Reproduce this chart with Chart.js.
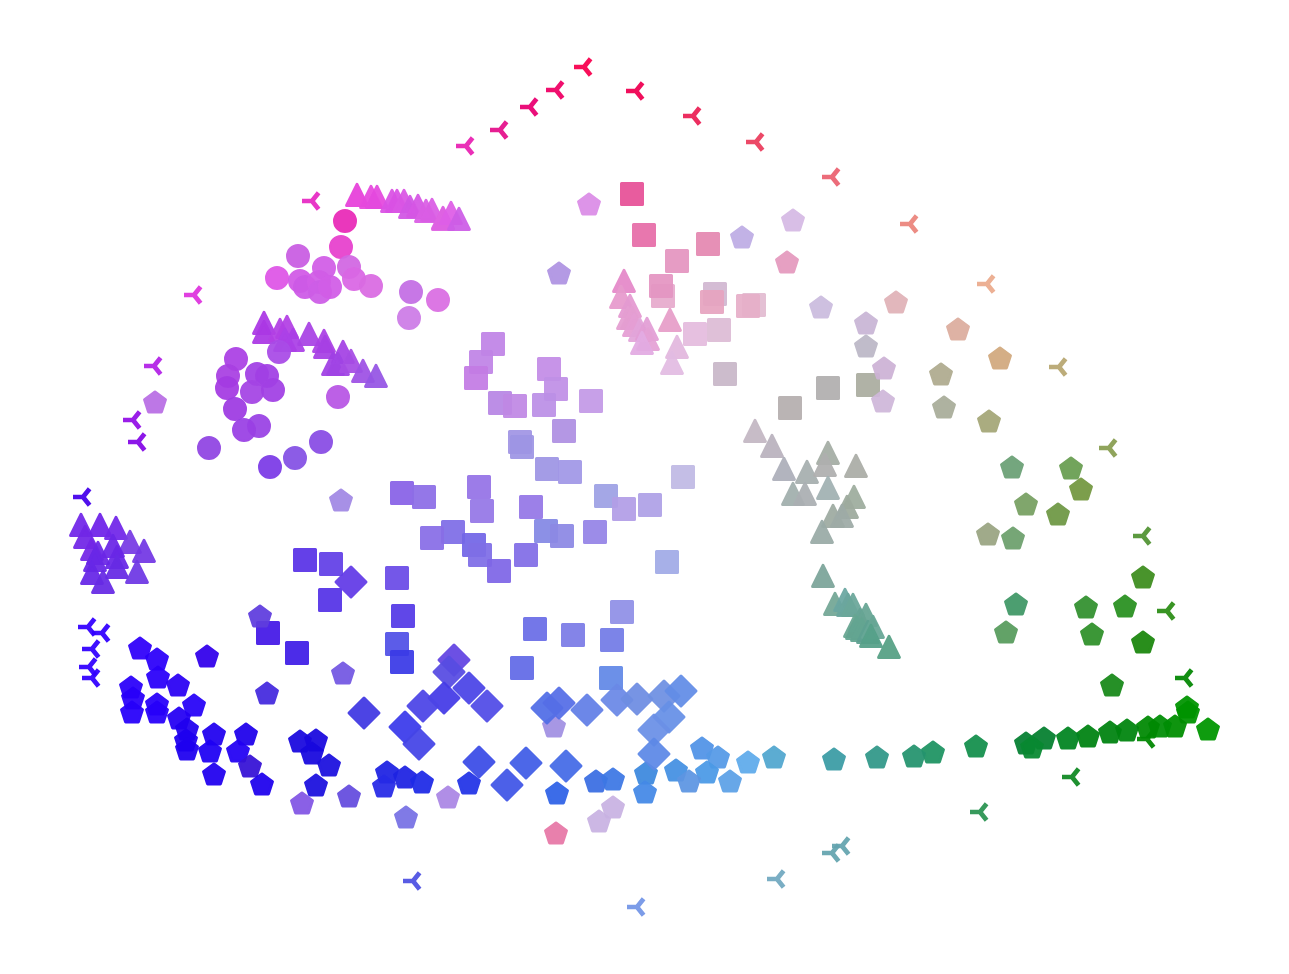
<!DOCTYPE html>
<html>
<head>
<meta charset="utf-8">
<title>Scatter</title>
<script src="https://cdn.jsdelivr.net/npm/chart.js@4"></script>
<style>
  html, body { margin: 0; background: #fff; }
  #chart { display: block; }
</style>
</head>
<body>
<canvas id="chart" width="1289" height="974"></canvas>
<script>
// values, one set of arrays per marker shape
const tristarX = [584,636,556,530,500,466,693,756,832,910,987,1059,1109,1143,1167,1185,312,194,154,133,138,83,88,102,92,89,92,413,637,777,980,832,842,1072,1147];
const tristarY = [67,91,90,107,130,146,116,142,177,224,284,367,448,536,611,678,201,295,366,420,442,497,627,633,649,667,678,881,907,879,812,853,846,777,739];
const tristarColors = ['#f8005a','#f00c5c','#f00a6e','#ea0f7a','#e61f92','#ea30b8','#ec2e60','#ec4a68','#ec6c7a','#ec8c84','#ecb094','#bcac7a','#90a45c','#5c9a40','#3a9424','#128e12','#e838c8','#e040e0','#b830e8','#9a1ee8','#8c18e8','#5008ec','#4008ff','#3e08ff','#3e08ff','#3e08ff','#3e08ff','#5a5ce4','#7c9ce8','#7aaec4','#389a5c','#6eaab4','#6eaab4','#1e9030','#0a8e10'];

const triangleX = [357,371,377,392,397,404,410,418,426,432,443,443,451,459,
  264,264,280,287,293,285,309,324,325,343,333,338,351,363,376,
  81,100,116,85,130,144,113,92,98,117,95,117,137,92,103,
  624,621,630,628,632,634,640,647,648,642,670,677,672,
  755,772,784,807,828,825,856,793,805,828,854,847,833,842,822,
  823,835,845,848,853,860,866,855,857,862,868,873,871,889];
const triangleY = [195,197,197,201,201,201,207,206,211,210,218,219,213,219,
  323,332,330,327,340,340,334,341,347,352,364,364,361,371,376,
  525,525,528,537,542,551,546,549,553,557,560,567,572,573,582,
  281,297,306,318,318,325,330,329,339,343,320,347,363,
  431,446,469,472,453,465,466,494,494,488,497,507,516,516,532,
  576,604,600,605,605,620,615,626,628,630,632,627,636,647];
const triangleColors = ['#e84cdc','#e854e0','#e654e0','#dc5ce6','#dc5ce6','#dc60e6','#d460e6','#d860e6','#dc68e6','#dc68e6','#e06ce4','#e06ce4','#e068e8','#d068e8',
  '#b044e6','#b044e6','#b84ce6','#b84ce6','#b04ce8','#b04ce8','#ae4ee6','#b04ce6','#ac4ce6','#aa4ee6','#a64ce6','#a650e6','#ac58e6','#a45ce6','#9c60e6',
  '#7a34ea','#7830ea','#7a34ea','#7a34e8','#8048e6','#7c44e6','#7434e8','#7c34e8','#7434e8','#7234e8','#7234e8','#7038e6','#7844e6','#7034e8','#7038e6',
  '#e690cc','#e8a0d0','#e6a0d4','#e6a4d4','#e6a4d4','#e6a4d6','#e4aadc','#e4a4d8','#e6a8d8','#e4b0e4','#e8a4cc','#e4bce0','#e4c0e4',
  '#c8bcc8','#beb8c2','#b2b4be','#acb4b4','#aab2aa','#b4b4b4','#b0b2ac','#a8b4b2','#b0b4b8','#a8b6b8','#a4b2a4','#a4b0a4','#a4b0a8','#a4b0ac','#a0b0ac',
  '#84aaa0','#7cac9c','#74aca8','#74aca4','#74aca0','#70aa9c','#70aa9a','#70aa98','#6caa98','#6caa98','#68a698','#70ac9c','#60a690','#60a68c'];

const circleX = [345,341,298,277,300,324,349,305,319,320,330,354,371,411,438,409,
  236,279,228,227,257,267,252,273,235,338,259,244,209,321,295,270];
const circleY = [221,247,256,278,281,268,267,287,282,292,287,279,286,292,300,318,
  359,352,376,388,374,376,392,390,409,397,426,430,448,442,458,467];
const circleColors = ['#ea38bc','#e84cd0','#cc68e4','#e060e8','#d464e8','#d468e8','#d470e4','#d064e8','#d468e8','#d068e8','#d468e8','#dc70e6','#dc74e4','#c878e6','#dc78e4','#d084e8',
  '#b04ce6','#ae56e8','#ae4ce4','#aa48e4','#a84ce6','#a84ce6','#aa50e6','#a84ce6','#a448e4','#bc60e6','#a04ee6','#a04ce6','#9850e4','#9058e6','#8c5ce6','#8448e8'];

const squareX = [632,644,708,677,663,661,715,712,754,748,719,695,
  493,481,476,549,556,500,515,544,591,564,520,522,547,570,725,790,828,868,683,606,624,650,479,482,531,546,562,595,453,474,480,526,499,667,
  402,424,432,305,331,397,330,403,268,297,397,402,535,573,612,622,522,611];
const squareY = [194,235,244,261,296,286,294,302,305,306,330,334,
  344,362,378,369,389,403,406,405,401,431,442,447,469,472,374,408,388,385,477,496,509,505,487,511,507,531,536,532,532,545,555,555,571,562,
  493,497,538,560,564,578,600,616,633,653,644,662,629,635,640,612,668,678];
const squareColors = ['#e85c9e','#e878ae','#e690b6','#e69cc4','#e8b0d0','#e69cc6','#d4bcd4','#e8aac4','#e4c0d4','#e8b4cc','#dfc0d8','#e6c0e0',
  '#c48ce8','#c48ce8','#c884e6','#c894e8','#c498e8','#bc8ee6','#c490e6','#c098e8','#c8a0e8','#b498e4','#a89ce6','#a49ce6','#a49ce6','#a89ee8','#ccbccc','#bab4b4','#b6b4b4','#b0b2a6','#c4bee6','#a4a8e6','#b8a4e8','#b4a8e8','#9c7ce8','#9c80e8','#9c80e8','#8c90e6','#9490e6','#9c8ce8','#8878e8','#7c70e8','#8878e8','#8a78e8','#8870e8','#a8b0e8',
  '#906ce8','#9478e8','#9078e8','#6440e8','#6c4ce8','#7458e8','#6040e8','#6048e8','#5028e8','#4c2ce8','#5c5ce8','#4848e8','#7478e8','#8484e8','#7c84e8','#9898e8','#6c74e8','#6c90e8'];

const pentagonX = [589,559,742,793,787,821,896,866,866,884,883,958,1000,941,944,989,155,341,
  1012,1071,1081,1026,1058,988,1013,1143,1086,1125,1016,1006,1092,1143,1112,
  1188,1187,1208,1175,1160,1148,1127,1110,1088,1068,1044,1026,1032,976,933,914,877,834,774,748,
  140,157,207,158,178,131,133,132,157,157,194,179,187,186,187,214,210,214,246,238,250,262,300,316,312,329,316,302,349,260,267,343,387,405,384,422,448,406,
  469,554,557,596,613,646,645,613,599,556,676,702,718,707,689,730];
const pentagonY = [204,273,237,220,262,307,302,323,346,368,401,329,358,374,407,421,402,500,
  467,468,489,504,514,534,538,577,607,606,604,632,634,642,685,
  712,707,729,726,726,727,730,732,736,738,738,743,747,746,752,756,757,759,757,762,
  648,659,656,677,685,687,698,712,704,712,705,718,729,740,749,734,751,774,734,751,766,784,741,740,753,765,785,803,796,616,693,673,772,777,786,782,797,817,
  783,726,793,781,779,773,792,807,821,833,770,748,757,772,781,781];
const pentagonColors = ['#dd94e8','#b49ae4','#c2b2e6','#d8bee6','#e6a0c2','#cec0e0','#e2b8bc','#ccbad8','#c0bcca','#d0b8d8','#d2bcdc','#deb2a4','#d4ae86','#b4b096','#aeb2a0','#aaac80','#bd78e6','#a890e6',
  '#74a67e','#72a45c','#7c9e4c','#80a66c','#789e50','#a0aa8a','#76a676','#4a942c','#3f983c','#36982e','#4c9e70','#62a268','#3c9838','#2a8e1c','#269028',
  '#0a9a0e','#0a9a0e','#0a9c0a','#0a940e','#0a9414','#0a9012','#0e8c1c','#0c8a1e','#0c8a20','#108c2e','#14883c','#14883e','#18903e','#229658','#2c9a6c','#329a78','#3e9e90','#48a2aa','#5cacd2','#6ab0ec',
  '#3c0cfa','#3a08fa','#3e0aec','#3808fa','#3810f4','#3808fa','#3606fa','#3404fa','#3408fa','#3406fa','#3412f8','#3208f4','#2e08f0','#2c08f0','#2c08f0','#2e10f0','#2c10f4','#2e08f0','#2c10ec','#3010f4','#4220d8','#2c10ee','#2818e0','#2818e0','#2618e0','#2a1ee0','#2a1ee0','#8a60e6','#6e58e0','#6a4ae0','#5038e0','#7c62e4','#2c30e4','#2c30e4','#3438e8','#2c38e8','#b08ee6','#807ae6',
  '#3040e8','#a898e4','#3c6ce8','#4878e4','#4a80e6','#4a90e0','#5090e8','#ccb8e4','#ccb8e4','#e880ac','#5098e4','#5c9ae8','#60a0e8','#56a0e8','#689ce4','#68a8e8'];

const diamondX = [351,364,454,449,469,444,423,487,405,419,479,526,566,507,547,559,587,617,637,664,681,669,654,654];
const diamondY = [582,713,660,672,688,698,706,706,727,744,762,763,766,785,708,703,710,700,699,696,691,717,730,754];
const diamondColors = ['#6c48e8','#4c44e4','#6c50e4','#6258e4','#5650e8','#5048e8','#5850e8','#5c58e8','#4848ec','#5050e8','#4858e8','#4c68e8','#5074e8','#4c60e8','#5c78e8','#6078e8','#6c88e8','#7490e8','#7894e4','#7898e4','#6c94e8','#7098e8','#7498e8','#6890e8'];

const MARK_ALPHA = 0.94;

// colours above are what shows on white, take the wash back out before applying alpha
function solid(hex) {
    const n = parseInt(hex.slice(1), 16);
    const ch = [n >> 16, (n >> 8) & 255, n & 255].map(
        (c) => Math.max(0, Math.round((c - 255 * (1 - MARK_ALPHA)) / MARK_ALPHA)));
    return `rgb(${ch[0]},${ch[1]},${ch[2]})`;
}

function polygon(g, pts) {
    g.beginPath();
    pts.forEach((p, i) => (i ? g.lineTo(p[0], p[1]) : g.moveTo(p[0], p[1])));
    g.closePath();
    g.fill();
    g.stroke();
}

const painters = {
    tristar(g) {
        g.lineWidth = 4.7;
        g.lineJoin = 'miter';
        g.beginPath();
        [[-10, 0], [6.6, -8.2], [6.6, 8.2]].forEach((p) => { g.moveTo(0, 0); g.lineTo(p[0], p[1]); });
        g.stroke();
    },
    triangle(g) { polygon(g, [[0, -10.6], [10.4, 10.5], [-10.4, 10.5]]); },
    circle(g) {
        g.beginPath();
        g.arc(0, 0, 11, 0, Math.PI * 2);
        g.fill();
        g.stroke();
    },
    square(g) { polygon(g, [[-10.5, -10.5], [10.5, -10.5], [10.5, 10.5], [-10.5, 10.5]]); },
    pentagon(g) {
        const pts = [];
        for (let i = 0; i < 5; i++) {
            const a = -Math.PI / 2 + i * 2 * Math.PI / 5;
            pts.push([11 * Math.cos(a), 1 + 11 * Math.sin(a)]);
        }
        polygon(g, pts);
    },
    diamond(g) { polygon(g, [[0, -15], [15, 0], [0, 15], [-15, 0]]); }
};

const sprites = {};
function sprite(shape, color) {
    const key = shape + color;
    if (sprites[key]) return sprites[key];
    const c = document.createElement('canvas');
    c.width = c.height = 44;
    const g = c.getContext('2d');
    g.translate(22, 22);
    g.fillStyle = g.strokeStyle = solid(color);
    g.lineWidth = shape === 'circle' ? 2 : 3;
    g.lineJoin = 'round';
    painters[shape](g);
    g.globalCompositeOperation = 'destination-out';
    g.fillStyle = `rgba(0,0,0,${1 - MARK_ALPHA})`;
    g.fillRect(-22, -22, 44, 44);
    sprites[key] = c;
    return c;
}

function series(shape, xs, ys, colors) {
    return {
        label: shape,
        data: xs.map((x, i) => ({ x: x, y: ys[i] })),
        pointRadius: 12,
        pointBorderWidth: 0,
        pointStyle: (ctx) => sprite(shape, colors[ctx.dataIndex] || colors[0])
    };
}

// first dataset ends up on top
new Chart(document.getElementById('chart'), {
    type: 'scatter',
    data: {
        datasets: [
            series('diamond', diamondX, diamondY, diamondColors),
            series('pentagon', pentagonX, pentagonY, pentagonColors),
            series('square', squareX, squareY, squareColors),
            series('circle', circleX, circleY, circleColors),
            series('triangle', triangleX, triangleY, triangleColors),
            series('tristar', tristarX, tristarY, tristarColors)
        ]
    },
    options: {
        responsive: false,
        animation: false,
        layout: { padding: 0, autoPadding: false },
        plugins: { legend: { display: false }, tooltip: { enabled: false } },
        scales: {
            x: { type: 'linear', display: false, min: 0, max: 1289 },
            y: { type: 'linear', display: false, min: 0, max: 974, reverse: true }
        }
    }
});
</script>
</body>
</html>
